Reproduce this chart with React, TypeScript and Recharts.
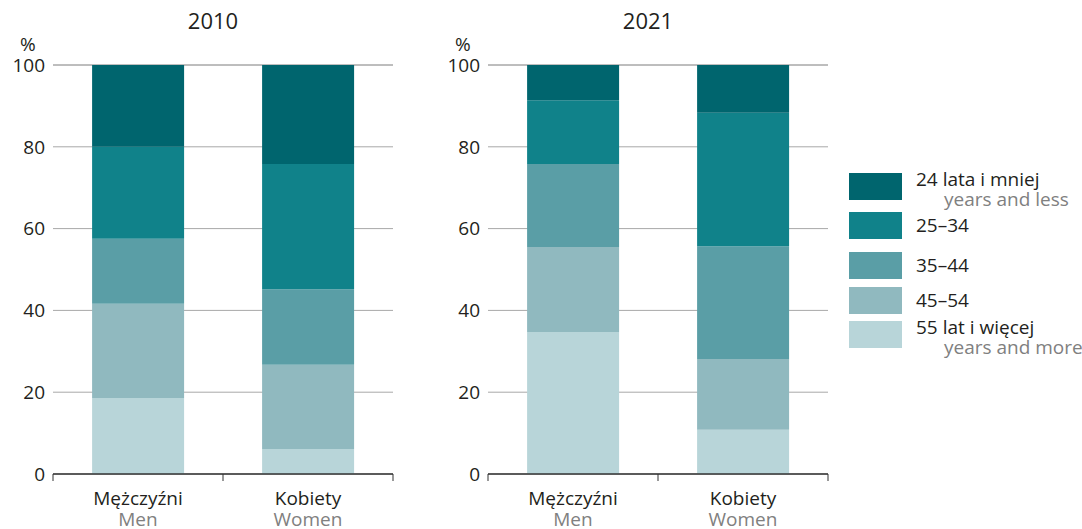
import { BarChart, Bar, XAxis, YAxis, CartesianGrid } from "recharts";

const categories = ["Mężczyźni", "Kobiety"];
const categoriesEn = ["Men", "Women"];

// 2010, values in %
const y2010_55plus = [18.6, 6.1];
const y2010_45_54 = [23.0, 20.6];
const y2010_35_44 = [15.9, 18.5];
const y2010_25_34 = [22.5, 30.6];
const y2010_24less = [20.0, 24.2];

// 2021, values in %
const y2021_55plus = [34.7, 10.8];
const y2021_45_54 = [20.8, 17.3];
const y2021_35_44 = [20.3, 27.6];
const y2021_25_34 = [15.6, 32.6];
const y2021_24less = [8.6, 11.7];

const yTicks = [0, 20, 40, 60, 80, 100];

const series = [
  { key: "s55", label: "55 lat i więcej", sub: "years and more", color: "#b8d5d9" },
  { key: "s45", label: "45–54", sub: "", color: "#90b9bf" },
  { key: "s35", label: "35–44", sub: "", color: "#5a9ea6" },
  { key: "s25", label: "25–34", sub: "", color: "#10828a" },
  { key: "s24", label: "24 lata i mniej", sub: "years and less", color: "#00656e" },
];

const build = (a: number[], b: number[], c: number[], d: number[], e: number[]) =>
  categories.map((name, i) => ({ name, en: categoriesEn[i], s55: a[i], s45: b[i], s35: c[i], s25: d[i], s24: e[i] }));

const data2010 = build(y2010_55plus, y2010_45_54, y2010_35_44, y2010_25_34, y2010_24less);
const data2021 = build(y2021_55plus, y2021_45_54, y2021_35_44, y2021_25_34, y2021_24less);

const FONT = "'Open Sans', sans-serif";
const FS = 19;
const CHART_W = 400;
const CHART_H = 529;
const Y_W = 53;
const M_RIGHT = 7;
const HALF_BAND = (CHART_W - Y_W - M_RIGHT) / 4;

function CatTick(props: any) {
  const { x, y, payload, index, visibleTicksCount } = props;
  const en = categoriesEn[categories.indexOf(payload.value)];
  const top = y - 8;
  return (
    <g>
      <line x1={x - HALF_BAND} x2={x - HALF_BAND} y1={top} y2={top + 7} stroke="#333" />
      {index === visibleTicksCount - 1 && (
        <line x1={x + HALF_BAND} x2={x + HALF_BAND} y1={top} y2={top + 7} stroke="#333" />
      )}
      <text x={x} y={top + 31} textAnchor="middle" fontSize={FS} fill="#231f20" fontFamily={FONT}>
        {payload.value}
      </text>
      <text x={x} y={top + 52} textAnchor="middle" fontSize={FS} fill="#808080" fontFamily={FONT}>
        {en}
      </text>
    </g>
  );
}

function Panel({ data, title, left }: { data: any[]; title: string; left: number }) {
  return (
    <div style={{ position: "absolute", left, top: 0, width: CHART_W, height: CHART_H }}>
      <div
        style={{
          position: "absolute",
          left: Y_W - 10,
          width: CHART_W - Y_W - M_RIGHT,
          top: 5,
          textAlign: "center",
          fontSize: 22,
          color: "#231f20",
          fontFamily: FONT,
        }}
      >
        {title}
      </div>
      <div
        style={{
          position: "absolute",
          left: 20,
          top: 34,
          fontSize: FS,
          lineHeight: "20px",
          color: "#231f20",
          fontFamily: FONT,
        }}
      >
        %
      </div>
      <BarChart
        width={CHART_W}
        height={CHART_H}
        data={data}
        margin={{ top: 65, right: M_RIGHT, bottom: 0, left: 0 }}
        barCategoryGap="23%"
      >
        <CartesianGrid vertical={false} stroke="#a8a8a8" strokeWidth={1} />
        <XAxis
          dataKey="name"
          height={55}
          axisLine={{ stroke: "#333", strokeWidth: 1.5 }}
          tickLine={false}
          tick={<CatTick />}
          interval={0}
        />
        <YAxis
          width={Y_W}
          domain={[0, 100]}
          ticks={yTicks}
          axisLine={false}
          tickLine={false}
          tick={{ fontSize: FS, fill: "#231f20", fontFamily: FONT }}
        />
        {series.map((s) => (
          <Bar key={s.key} dataKey={s.key} stackId="a" fill={s.color} isAnimationActive={false} />
        ))}
      </BarChart>
    </div>
  );
}

function LegendBox() {
  const items = [...series].reverse();
  const tops = [173, 212, 252, 287, 321];
  return (
    <div style={{ position: "absolute", left: 849, top: 0, fontFamily: FONT, fontSize: FS, lineHeight: "20px" }}>
      {items.map((s, i) => (
        <div key={s.key} style={{ position: "absolute", top: tops[i], left: 0, width: 240 }}>
          <div style={{ position: "absolute", left: 0, top: 0, width: 53, height: 27, background: s.color }} />
          <div
            style={{
              position: "absolute",
              left: 67,
              top: s.sub ? -4 : 3,
              color: "#231f20",
              whiteSpace: "nowrap",
            }}
          >
            {s.label}
          </div>
          {s.sub && (
            <div style={{ position: "absolute", left: 95, top: 16, color: "#808080", whiteSpace: "nowrap" }}>
              {s.sub}
            </div>
          )}
        </div>
      ))}
    </div>
  );
}

export default function App() {
  return (
    <div style={{ position: "absolute", left: 0, top: 0, width: 1082, height: 529, background: "#fff" }}>
      <Panel data={data2010} title="2010" left={0} />
      <Panel data={data2021} title="2021" left={435} />
      <LegendBox />
    </div>
  );
}
